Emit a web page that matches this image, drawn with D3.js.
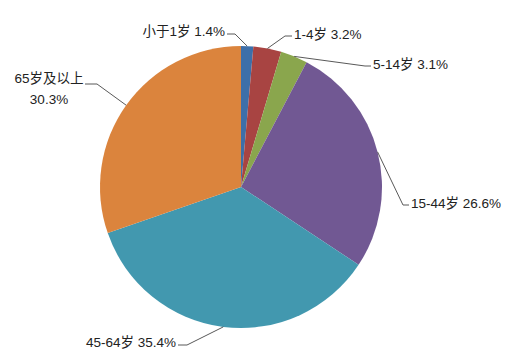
<!DOCTYPE html>
<html>
<head>
<meta charset="utf-8">
<script src="https://cdn.jsdelivr.net/npm/d3@7"></script>
<style>
  body { margin: 0; background: #fff; }
  svg text { font-family: "Liberation Sans", "Noto Sans CJK SC", sans-serif; font-size: 13.5px; fill: #222; }
</style>
</head>
<body>
<div id="chart"></div>
<script>
// age groups and share (%)
const categories = ['小于1岁', '1-4岁', '5-14岁', '15-44岁', '45-64岁', '65岁及以上'];
const shares = [1.4, 3.2, 3.1, 26.6, 35.4, 30.3];
const colors = ['#3D6FA9', '#A84442', '#8AA64D', '#715893', '#4298AF', '#DB843D'];

// label layout: elbow point + horizontal tail, relative to the pie centre
const labelLayout = [
    { elbow: [-6, -153], tail: -8, anchor: 'end', dy: [2] },
    { elbow: [44, -151], tail: 7, anchor: 'start', dy: [3] },
    { elbow: [124, -121], tail: 6, anchor: 'start', dy: [3] },
    { elbow: [162, 18], tail: 6, anchor: 'start', dy: [3] },
    { elbow: [-54, 158], tail: -9, anchor: 'end', dy: [2] },
    { elbow: [-144, -103], tail: -12, anchor: 'middle', dy: [-1, 20], split: true }
];

const width = 517, height = 362;
const cx = 241, cy = 187, radius = 141;

const svg = d3.select('#chart')
    .append('svg')
    .attr('width', width)
    .attr('height', height);

const g = svg.append('g')
    .attr('transform', `translate(${cx},${cy})`);

const pie = d3.pie()
    .value(d => d)
    .sort(null);

const arcs = pie(shares);

const arc = d3.arc()
    .innerRadius(0)
    .outerRadius(radius);

g.selectAll('path.slice')
    .data(arcs)
    .join('path')
    .attr('class', 'slice')
    .attr('d', arc)
    .attr('fill', (d, i) => colors[i]);

// leader lines and labels
arcs.forEach((d, i) => {
    const mid = (d.startAngle + d.endAngle) / 2;
    const p0 = [Math.sin(mid) * radius, -Math.cos(mid) * radius];
    const L = labelLayout[i];
    const p1 = L.elbow;
    const p2 = [p1[0] + L.tail, p1[1]];

    g.append('polyline')
        .attr('points', [p0, p1, p2].map(p => p.join(',')).join(' '))
        .attr('fill', 'none')
        .attr('stroke', '#595959')
        .attr('stroke-width', 1);

    const label = categories[i] + ' ' + shares[i].toFixed(1) + '%';
    const lines = L.split ? [categories[i], shares[i].toFixed(1) + '%'] : [label];
    let tx = p2[0] + (L.tail > 0 ? 2 : -2);
    if (L.anchor === 'middle') tx = -192;

    const text = g.append('text')
        .attr('text-anchor', L.anchor);
    lines.forEach((s, j) => {
        text.append('tspan')
            .attr('x', tx)
            .attr('y', p2[1] + L.dy[j])
            .text(s);
    });
});
</script>
</body>
</html>
